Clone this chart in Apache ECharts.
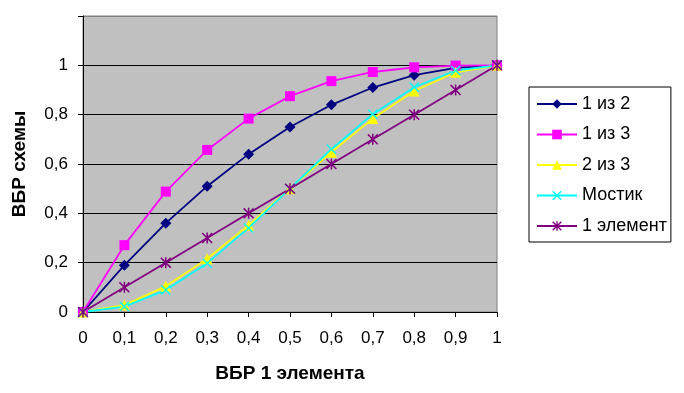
<!DOCTYPE html>
<html>
<head>
<meta charset="utf-8">
<script src="https://cdn.jsdelivr.net/npm/echarts@6/dist/echarts.min.js"></script>
<style>html,body{margin:0;padding:0;background:#fff}#c{width:684px;height:393px}</style>
</head>
<body>
<div id="c"></div>
<script>
var xValues = [0, 0.1, 0.2, 0.3, 0.4, 0.5, 0.6, 0.7, 0.8, 0.9, 1];
var s1of2 = [0, 0.19, 0.36, 0.51, 0.64, 0.75, 0.84, 0.91, 0.96, 0.99, 1];
var s1of3 = [0, 0.271, 0.488, 0.657, 0.784, 0.875, 0.936, 0.973, 0.992, 0.999, 1];
var s2of3 = [0, 0.028, 0.104, 0.216, 0.352, 0.5, 0.648, 0.784, 0.896, 0.972, 1];
var sBridge = [0, 0.022, 0.089, 0.198, 0.341, 0.5, 0.66, 0.802, 0.911, 0.979, 1];
var s1elem = [0, 0.1, 0.2, 0.3, 0.4, 0.5, 0.6, 0.7, 0.8, 0.9, 1];
var seriesNames = ['1 из 2', '1 из 3', '2 из 3', 'Мостик', '1 элемент'];

var X_PATH = 'path://M0,1L1,0L5,4L9,0L10,1L6,5L10,9L9,10L5,6L1,10L0,9L4,5Z';
var STAR_PATH = 'path://M0,1L1,0L5,4L9,0L10,1L6,5L10,9L9,10L5,6L1,10L0,9L4,5ZM4.3,0L5.7,0L5.7,10L4.3,10Z';

function pairs(arr) { return xValues.map(function (x, i) { return [x, arr[i]]; }); }
function fmt(v) { return String(Math.round(v * 10) / 10).replace('.', ','); }

var FONT = 'Liberation Sans, Arial';
var chart = echarts.init(document.getElementById('c'));
function mk(name, data, color, symbol, size) {
  return {
    name: name, type: 'line', data: pairs(data),
    symbol: symbol, symbolSize: size,
    lineStyle: { color: color, width: 1.8 },
    itemStyle: { color: color },
    emphasis: { disabled: true },
    animation: false
  };
}
chart.setOption({
  animation: false,
  grid: { left: 83, right: 187, top: 16, bottom: 81, show: true, backgroundColor: '#C0C0C0', borderColor: '#808080', borderWidth: 1 },
  legend: {
    orient: 'vertical', left: 529, top: 87,
    padding: [8, 4, 7, 7],
    backgroundColor: '#fff', borderColor: '#000', borderWidth: 1,
    itemWidth: 40, itemHeight: 12, itemGap: 12.5,
    textStyle: { fontFamily: FONT, fontSize: 18, color: '#000', lineHeight: 18 },
    data: seriesNames
  },
  xAxis: {
    type: 'value', min: 0, max: 1, interval: 0.1,
    name: 'ВБР 1 элемента', nameLocation: 'middle', nameGap: 52,
    nameTextStyle: { fontFamily: FONT, fontSize: 19, fontWeight: 'bold', color: '#000' },
    axisLine: { lineStyle: { color: '#000', width: 1 } },
    axisTick: { show: true, length: 5, lineStyle: { color: '#000' } },
    axisLabel: { formatter: fmt, fontFamily: FONT, fontSize: 17, color: '#000', margin: 18 },
    splitLine: { show: false }
  },
  yAxis: {
    type: 'value', min: 0, max: 1.2, interval: 0.2,
    name: 'ВБР схемы', nameLocation: 'middle', nameGap: 54, nameRotate: 90,
    nameTextStyle: { fontFamily: FONT, fontSize: 19, fontWeight: 'bold', color: '#000' },
    axisLine: { show: true, lineStyle: { color: '#000', width: 1 } },
    axisTick: { show: true, length: 5, lineStyle: { color: '#000' } },
    axisLabel: { formatter: function (v) { return v > 1.05 ? '' : fmt(v); }, fontFamily: FONT, fontSize: 17, color: '#000', margin: 15 },
    splitLine: { show: true, lineStyle: { color: ['#000', '#000', '#000', '#000', '#000', '#000', '#808080'], width: 1 } }
  },
  series: [
    mk(seriesNames[0], s1of2, '#000080', 'diamond', 11),
    mk(seriesNames[1], s1of3, '#FF00FF', 'rect', 10),
    mk(seriesNames[2], s2of3, '#FFFF00', 'triangle', 11),
    mk(seriesNames[3], sBridge, '#00FFFF', X_PATH, 10),
    mk(seriesNames[4], s1elem, '#800080', STAR_PATH, 11)
  ]
});
</script>
</body>
</html>
